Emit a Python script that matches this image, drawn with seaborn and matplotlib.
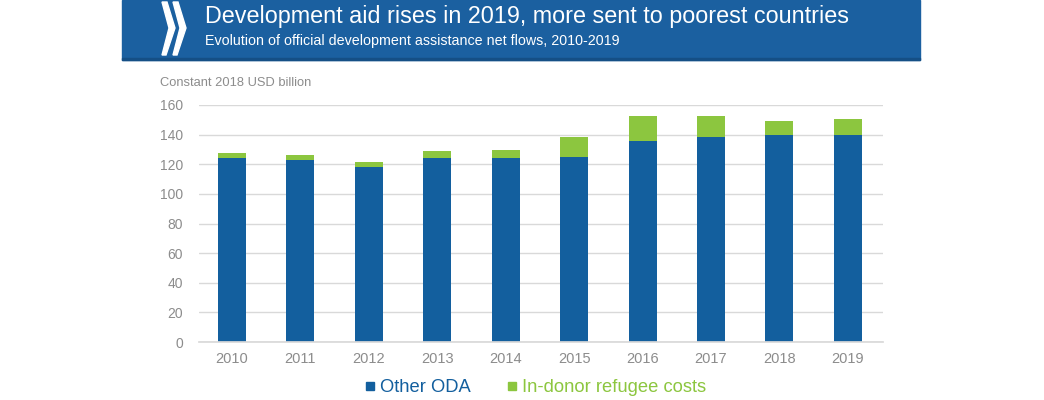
import matplotlib.pyplot as plt
import seaborn as sns
import pandas as pd
from matplotlib.lines import Line2D
from matplotlib.patches import Rectangle, Polygon

years = ['2010', '2011', '2012', '2013', '2014', '2015', '2016', '2017', '2018', '2019']
other_oda = [124.1, 122.8, 118.0, 124.1, 124.0, 125.0, 136.0, 138.2, 139.5, 139.5]
refugee_costs = [3.6, 3.6, 3.5, 4.9, 5.9, 13.3, 16.4, 14.2, 9.6, 10.8]

title = "Development aid rises in 2019, more sent to poorest countries"
subtitle = "Evolution of official development assistance net flows, 2010-2019"
y_label = "Constant 2018 USD billion"

BLUE = '#135f9e'
GREEN = '#8cc63f'
BANNER = '#1b60a0'
GREY = '#8c8c8c'

df = pd.DataFrame({'year': years, 'other': other_oda, 'refugee': refugee_costs})
df['total'] = df['other'] + df['refugee']

sns.set_theme(style='white')
plt.rcParams['font.family'] = ['Liberation Sans', 'DejaVu Sans']

fig = plt.figure(figsize=(10.44, 4.0), dpi=100)
ax = fig.add_axes([0.1906, 0.145, 0.655, 0.5925])

# stacked bars: total in green, blue drawn on top
sns.barplot(data=df, x='year', y='total', color=GREEN, width=0.41, saturation=1,
            linewidth=0, ax=ax)
sns.barplot(data=df, x='year', y='other', color=BLUE, width=0.41, saturation=1,
            linewidth=0, ax=ax)

ax.set_ylim(0, 160)
ax.set_yticks(range(0, 161, 20))
ax.set_xlim(-0.48, 9.51)
ax.yaxis.grid(True, color='#d9d9d9', linewidth=1)
ax.set_axisbelow(True)
for s in ['top', 'right', 'left']:
    ax.spines[s].set_visible(False)
ax.spines['bottom'].set_color('#d9d9d9')
ax.set_xlabel('')
ax.set_ylabel('')
ax.tick_params(axis='both', colors=GREY, length=0)
ax.tick_params(axis='y', pad=11.5, labelsize=10)
ax.tick_params(axis='x', pad=7, labelsize=10.5)

fig.text(160 / 1044, 1 - 83 / 400, y_label, color=GREY, fontsize=9.3, va='center', ha='left')

# banner
fig.patches.append(Rectangle((122 / 1044, 1 - 60 / 400), (920 - 122) / 1044, 60 / 400,
                             transform=fig.transFigure, color=BANNER, zorder=0))
fig.patches.append(Rectangle((122 / 1044, 1 - 60 / 400), (920 - 122) / 1044, 2 / 400,
                             transform=fig.transFigure, color='#154f85', zorder=1))
# logo chevrons
for dx in [0, 11]:
    x0 = 162 + dx
    pts = [(x0, 2), (x0 + 5, 2), (x0 + 13, 28), (x0 + 4, 55), (x0, 55), (x0 + 7, 28)]
    fig.patches.append(Polygon([(px / 1044, 1 - py / 400) for px, py in pts], closed=True,
                               transform=fig.transFigure, color='white', zorder=2))

fig.text(205 / 1044, 1 - 16 / 400, title, color='white', fontsize=16.8, va='center', ha='left')
fig.text(205 / 1044, 1 - 41 / 400, subtitle, color='white', fontsize=10.3, va='center', ha='left')

handles = [Line2D([], [], marker='s', linestyle='', color=BLUE, markersize=6),
           Line2D([], [], marker='s', linestyle='', color=GREEN, markersize=6)]
leg = fig.legend(handles, ['Other ODA', 'In-donor refugee costs'], loc='center',
                 bbox_to_anchor=(536 / 1044, 1 - 388 / 400), ncol=2, frameon=False,
                 fontsize=13.2, handletextpad=0.3, columnspacing=2.0,
                 labelcolor=[BLUE, GREEN], handlelength=0.5)

fig.savefig('out.png', dpi=100)
